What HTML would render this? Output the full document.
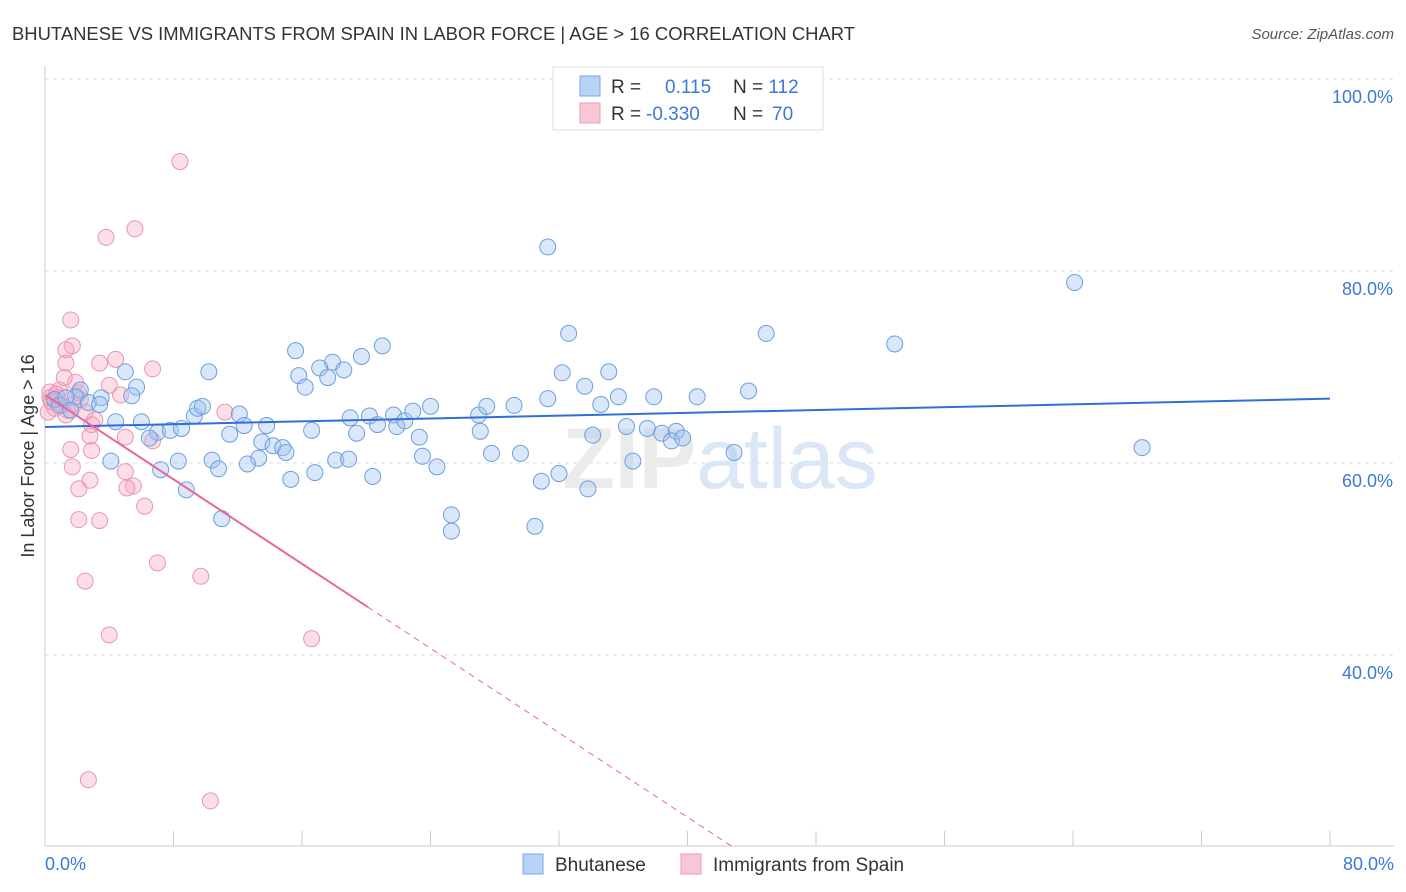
<!DOCTYPE html>
<html><head><meta charset="utf-8"><style>
body{margin:0;background:#fff;font-family:"Liberation Sans",sans-serif;}
svg{display:block}
</style></head><body>
<svg id="chart" width="1406" height="892">
<text x="12" y="40" font-size="18" fill="#333" textLength="843" lengthAdjust="spacingAndGlyphs">BHUTANESE VS IMMIGRANTS FROM SPAIN IN LABOR FORCE | AGE &gt; 16 CORRELATION CHART</text>
<text x="1394" y="39" font-size="15" fill="#555" font-style="italic" text-anchor="end">Source: ZipAtlas.com</text>
<g id="grid"></g>
<line x1="45" y1="66" x2="45" y2="846" stroke="#ccc"/>
<line x1="45" y1="846" x2="1394" y2="846" stroke="#ccc"/>
<text x="720" y="488" font-size="86" text-anchor="middle" fill="#ebebeb" font-weight="bold">ZIP<tspan fill="#dbe7f6" font-weight="normal">atlas</tspan></text>
<text transform="translate(34,456) rotate(-90)" font-size="18" fill="#333" text-anchor="middle">In Labor Force | Age &gt; 16</text>
<text x="45" y="870" font-size="18" fill="#3b78d8">0.0%</text>
<text x="1394" y="870" font-size="18" fill="#3b78d8" text-anchor="end">80.0%</text>
<g id="pts"></g>
<g id="lines"></g>
<g>
<rect x="553" y="67" width="270" height="63" fill="#fff" stroke="#ddd"/>
<rect x="580" y="76" width="20" height="20" fill="#b8d3f5" stroke="#7aa8e6"/>
<rect x="580" y="103" width="20" height="20" fill="#f9c6d4" stroke="#ee9ab4"/>
<text x="611" y="93" font-size="19" fill="#333">R = <tspan x="665" fill="#3b78d8">0.115</tspan><tspan x="733">N = </tspan><tspan fill="#3b78d8">112</tspan></text>
<text x="611" y="120" font-size="19" fill="#333">R = <tspan x="646" fill="#3b78d8">-0.330</tspan><tspan x="733">N = </tspan><tspan x="772" fill="#3b78d8">70</tspan></text>
</g>
<g>
<rect x="523" y="854" width="20" height="20" fill="#b8d3f5" stroke="#7aa8e6"/>
<text x="555" y="871" font-size="19" fill="#333">Bhutanese</text>
<rect x="681" y="854" width="20" height="20" fill="#f9c6d4" stroke="#ee9ab4"/>
<text x="713" y="871" font-size="19" fill="#333">Immigrants from Spain</text>
</g>
</svg>
<script>
const yTicks=[40,60,80,100];
const xTickVals=[0,10,20,30,40,50,60,70,80,90,100].map(i=>i*0.8);
const blueX=[31.3,64.1,32.6,44.9,52.9,15.6,21.0,19.7,17.9,17.1,18.6,15.8,17.6,16.2,10.2,5.0,5.7,5.4,2.2,1.9,2.7,3.5,3.4,4.4,6.0,7.0,6.5,7.8,8.5,9.3,9.5,9.8,11.5,12.1,12.4,13.8,13.5,14.2,14.8,15.0,13.3,12.6,10.4,10.8,8.3,7.2,8.8,11.0,4.1,16.6,15.3,16.8,18.1,18.9,20.4,19.0,19.4,20.2,20.7,21.7,21.9,22.4,22.9,24.0,23.3,23.5,24.4,25.3,25.3,27.0,27.5,27.1,27.8,29.2,29.6,31.3,32.2,33.6,35.1,35.7,34.6,36.2,34.1,32.0,30.9,33.8,30.5,37.5,37.9,38.4,39.3,39.0,39.7,40.6,36.6,43.8,42.9,68.3,0.6,0.9,1.3,1.6];
const blueY=[82.5,78.8,73.5,73.5,72.4,71.7,72.2,71.1,70.5,69.9,69.7,69.1,68.9,67.9,69.5,69.5,67.9,67.0,67.6,66.9,66.3,66.8,66.1,64.3,64.3,63.2,62.6,63.4,63.6,64.9,65.7,65.9,63.0,65.1,63.9,63.9,62.2,61.8,61.6,61.1,60.5,59.9,60.3,59.4,60.2,59.3,57.2,54.2,60.2,63.4,58.3,59.0,60.3,60.4,58.6,64.7,63.1,64.9,64.0,65.0,63.8,64.4,65.4,65.9,62.7,60.7,59.6,54.6,52.9,65.0,65.9,63.3,61.0,66.0,61.0,66.7,69.4,68.0,69.5,66.9,66.1,63.8,62.9,58.9,58.1,57.3,53.4,63.6,66.9,63.1,63.3,62.3,62.6,66.9,60.2,67.5,61.1,61.6,66.6,66.0,66.8,65.5];
const pinkX=[8.4,5.6,3.8,1.6,1.7,1.3,1.3,3.4,4.4,6.7,1.2,1.9,4.0,4.7,0.9,0.3,0.6,2.5,2.9,3.1,5.0,6.7,11.2,2.8,2.9,1.6,1.7,5.0,5.5,5.1,2.8,2.1,6.2,2.1,3.4,7.0,2.5,9.7,4.0,16.6,2.7,10.3,0.2,0.4,0.7,1.1,1.4,1.8,2.2,0.8,1.3,0.3,2.1];
const pinkY=[91.4,84.4,83.5,74.9,72.2,71.8,70.4,70.4,70.8,69.8,68.9,68.4,68.1,67.1,67.6,66.8,65.7,65.3,64.0,64.5,62.7,62.3,65.3,62.8,61.3,61.4,59.6,59.1,57.6,57.4,58.2,57.3,55.5,54.1,54.0,49.6,47.7,48.2,42.1,41.7,27.0,24.8,65.3,66.4,67.2,66.0,65.5,66.1,66.6,66.8,65.0,67.4,67.3];
const blueTrend=[63.75,66.7];
const pinkTrend=[67.1,-1.10];
const X=v=>45+v*1285/80, Y=v=>79+(100-v)*9.6;
const NS='http://www.w3.org/2000/svg';
const mk=(t,a,p)=>{const e=document.createElementNS(NS,t);for(const k in a)e.setAttribute(k,a[k]);p.appendChild(e);return e;};
const grid=document.getElementById('grid');
yTicks.forEach(v=>{
 const l=mk('line',{x1:45,x2:1394,y1:Y(v),y2:Y(v),stroke:'#ddd','stroke-dasharray':'4,4'},grid);
 
 
 const t=mk('text',{x:1393,y:Y(v)+24,'font-size':18,fill:'#3b78d8','text-anchor':'end'},grid);
 t.textContent=v.toFixed(1)+'%';
 
 
});
xTickVals.forEach(v=>{
 const l=mk('line',{x1:X(v),x2:X(v),y1:831,y2:846,stroke:'#ccc'},grid);
 
 
});
const pts=document.getElementById('pts');
pinkX.forEach((x,i)=>{
 const c=mk('circle',{cx:X(x),cy:Y(pinkY[i]),r:8,fill:'rgba(245,160,190,0.35)',stroke:'#ec94b0','stroke-width':1},pts);
 
 
});
blueX.forEach((x,i)=>{
 const c=mk('circle',{cx:X(x),cy:Y(blueY[i]),r:8,fill:'rgba(160,195,240,0.4)',stroke:'#6c9fe0','stroke-width':1},pts);
 
 
});
const lines=document.getElementById('lines');
const bl=mk('line',{x1:X(0),y1:Y(blueTrend[0]),x2:X(80),y2:Y(blueTrend[1]),stroke:'#2f6fd6','stroke-width':2},lines);


const pe=20.1, pz=(20-pinkTrend[0])/pinkTrend[1];
const pl=mk('line',{x1:X(0),y1:Y(pinkTrend[0]),x2:X(pe),y2:Y(pinkTrend[0]+pinkTrend[1]*pe),stroke:'#e8689a','stroke-width':2},lines);


const pd=mk('line',{x1:X(pe),y1:Y(pinkTrend[0]+pinkTrend[1]*pe),x2:X(pz),y2:Y(20),stroke:'#e8689a','stroke-width':1,'stroke-dasharray':'6,5'},lines);


</script>
</body></html>
